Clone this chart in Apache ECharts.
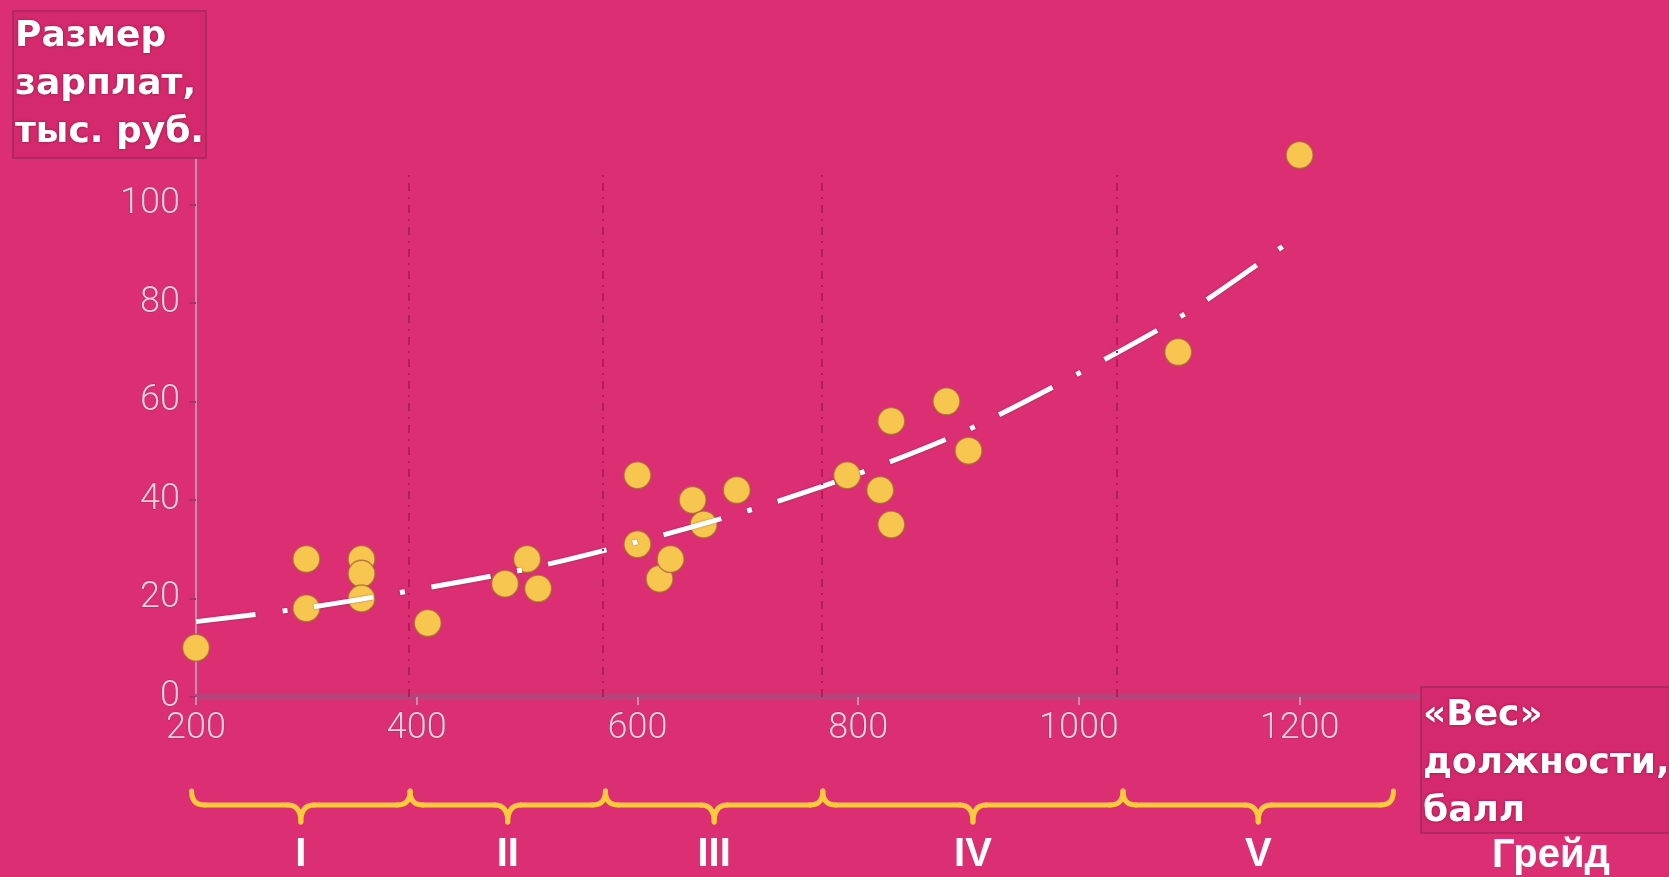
<!DOCTYPE html>
<html><head><meta charset="utf-8">
<script src="https://cdn.jsdelivr.net/npm/echarts@6/dist/echarts.min.js"></script>
<style>html,body{margin:0;padding:0;background:#DC2E73;overflow:hidden}#c{width:1669px;height:877px;}</style>
</head><body><div id="c"></div>
<script>
// ---- data ----
const jobWeight = [200,300,300,350,350,350,410,480,500,510,600,600,620,630,650,660,690,790,820,830,830,880,900,1090,1200];
const salary    = [10, 28, 18, 28, 25, 20, 15, 23, 28, 22, 45, 31, 24, 28, 40, 35, 42, 45, 42, 56, 35, 60, 50, 70, 110];
const trendX = [200, 300, 400, 500, 600, 700, 800, 900, 1000, 1100, 1188];
const trendY = [15.3, 18.1, 21.8, 26.0, 31.5, 37.8, 45.3, 54.3, 65.7, 78.3, 92.0];
const gradeBreaks = [393, 569, 767, 1034];
const braceEdges = [196, 394, 571, 768, 1040, 1285];
const gradeNames = ['I','II','III','IV','V'];
const xTicks = [200, 400, 600, 800, 1000, 1200];
const yTicks = [0, 20, 40, 60, 80, 100];
const yTitle = 'Размер\nзарплат,\nтыс. руб.';
const xTitle = '«Вес»\nдолжности,\nбалл';
const gradeTitle = 'Грейд';

const chart = echarts.init(document.getElementById('c'), null, {renderer:'canvas'});
const labelStyle = {color:'#EAD2DD', fontFamily:'Roboto', fontWeight:300, fontSize:36,
  textBorderColor:'rgba(120,20,60,0.4)', textBorderWidth:1, formatter:v=>String(v)};
const option = {
  backgroundColor:'#DC2E73',
  animation:false,
  grid:{left:196, right:248, top:155, bottom:180, containLabel:false},
  xAxis:{type:'value', min:200, max:1310,
    axisLine:{show:true, lineStyle:{color:'#B6447C', width:6}},
    axisTick:{show:true, length:8, lineStyle:{color:'#C98BAA', width:2}, customValues:xTicks},
    axisLabel:Object.assign({margin:14, customValues:xTicks}, labelStyle),
    splitLine:{show:false}},
  yAxis:{type:'value', min:0, max:110,
    axisLine:{show:true, lineStyle:{color:'#C68DAA', width:2}},
    axisTick:{show:true, length:7, lineStyle:{color:'#A8336A', width:2}, customValues:yTicks},
    axisLabel:Object.assign({margin:16, customValues:yTicks}, labelStyle),
    splitLine:{show:false}},
  series:[
    {type:'scatter', z:3,
     data: jobWeight.map((x,i)=>[x, salary[i]]),
     symbolSize:27,
     itemStyle:{color:'#F7C64E', borderColor:'rgba(170,95,60,0.75)', borderWidth:1.5, opacity:1},
     markLine:{silent:true, symbol:'none', label:{show:false},
       lineStyle:{color:'#B41C58', width:2, type:[8,6,2,6]},
       data: gradeBreaks.map(v=>[{coord:[v,0]},{coord:[v,106]}])}},
    {type:'line', z:4, smooth:0.3, showSymbol:false,
     data: trendX.map((x,i)=>[x, trendY[i]]),
     lineStyle:{color:'#FFFFFF', width:5, type:[60,27,5,27], cap:'butt',
       shadowColor:'rgba(90,0,30,0.45)', shadowBlur:2}}
  ]
};
chart.setOption(option);

const px = v => chart.convertToPixel({gridIndex:0}, [v, 0])[0];
const graphics = [];
// title boxes
graphics.push({type:'rect', shape:{x:13, y:11, width:193, height:147},
  style:{fill:'#D5296D', stroke:'#A3295C', lineWidth:1.5}, z:10});
graphics.push({type:'text', x:15, y:13, z:11, style:{text:yTitle, fill:'#FFFFFF',
  font:'bold 36px "DejaVu Sans"', lineHeight:48, verticalAlign:'top',
  textShadowColor:'rgba(110,0,40,0.6)', textShadowBlur:3}});
graphics.push({type:'rect', shape:{x:1421, y:687, width:252, height:146},
  style:{fill:'#D5296D', stroke:'#A3295C', lineWidth:1.5}, z:10});
graphics.push({type:'text', x:1423, y:692, z:11, style:{text:xTitle, fill:'#FFFFFF',
  font:'bold 36px "DejaVu Sans"', lineHeight:48, verticalAlign:'top',
  textShadowColor:'rgba(110,0,40,0.6)', textShadowBlur:3}});
graphics.push({type:'text', x:1551, y:856, z:11, style:{text:gradeTitle, fill:'#FFFFFF',
  font:'bold 40px "Liberation Sans"', align:'center', verticalAlign:'middle'}});
// braces
const yTop = 791, yMid = 805, yTip = 822, r = 13;
const braceStyle = {fill:null, stroke:'#FFCB3D', lineWidth:5, lineCap:'round', lineJoin:'round'};
const curve = (x1,y1,cx,cy,x2,y2) => ({type:'bezierCurve', z:10,
  shape:{x1:x1, y1:y1, cpx1:cx, cpy1:cy, x2:x2, y2:y2}, style:braceStyle});
const seg = (x1,y1,x2,y2) => ({type:'line', z:10, shape:{x1:x1,y1:y1,x2:x2,y2:y2}, style:braceStyle});
for (let i = 0; i < gradeNames.length; i++) {
  const a = px(braceEdges[i]), b = px(braceEdges[i+1]), m = (a+b)/2;
  graphics.push(curve(a, yTop, a, yMid, a+r, yMid));
  graphics.push(seg(a+r, yMid, m-r, yMid));
  graphics.push(curve(m-r, yMid, m, yMid, m, yTip));
  graphics.push(curve(m, yTip, m, yMid, m+r, yMid));
  graphics.push(seg(m+r, yMid, b-r, yMid));
  graphics.push(curve(b-r, yMid, b, yMid, b, yTop));
  graphics.push({type:'text', x:m, y:855, z:11, style:{text:gradeNames[i], fill:'#FFFFFF',
    font:'bold 40px "Liberation Sans"', align:'center', verticalAlign:'middle'}});
}
chart.setOption({graphic:graphics});
</script></body></html>
